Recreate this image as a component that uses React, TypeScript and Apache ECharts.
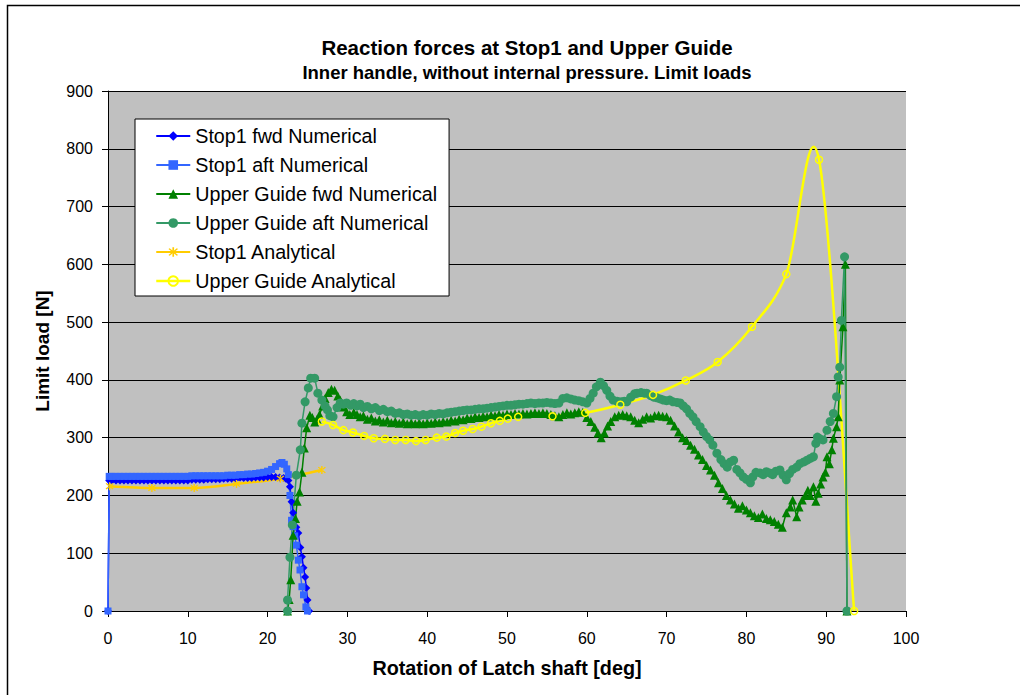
import React, { useEffect, useRef } from "react";
import * as echarts from "echarts";

const titleText = "Reaction forces at Stop1 and Upper Guide";
const subtitleText = "Inner handle, without internal pressure. Limit loads";
const xAxisName = "Rotation of Latch shaft [deg]";
const yAxisName = "Limit load [N]";
const seriesNames = [
  "Stop1 fwd Numerical",
  "Stop1 aft Numerical",
  "Upper Guide fwd Numerical",
  "Upper Guide aft Numerical",
  "Stop1 Analytical",
  "Upper Guide Analytical",
];

const stop1FwdData = [
  [0, 0], [0.15, 226], [0.5, 226], [1, 226], [1.5, 226], [2, 226], [2.5, 226], [3, 226], [3.5, 226], [4, 226],
  [4.5, 226], [5, 226], [5.5, 226], [6, 226], [6.5, 226], [7, 226], [7.5, 226], [8, 226], [8.5, 226], [9, 226],
  [9.5, 226], [10, 226], [10.5, 227], [11, 227], [11.5, 227], [12, 227], [12.5, 228], [13, 228], [13.5, 228],
  [14, 228], [14.5, 229], [15, 229], [15.5, 229], [16, 229], [16.5, 230], [17, 230], [17.5, 230], [18, 230],
  [18.5, 231], [19, 231], [19.5, 231], [20, 232], [20.5, 232], [21, 232], [21.5, 231], [22, 230], [22.3, 229],
  [22.6, 226], [22.8, 215], [23.0, 189], [23.2, 170], [23.4, 155], [23.6, 145], [23.85, 135], [24.1, 110],
  [24.3, 94], [24.5, 75], [24.7, 59], [24.85, 40], [25.0, 19], [25.2, 0],
];

const stop1AftData = [
  [0, 0], [0.15, 233], [0.5, 233], [1, 233], [1.5, 233], [2, 233], [2.5, 233], [3, 233], [3.5, 233], [4, 233],
  [4.5, 233], [5, 233], [5.5, 233], [6, 233], [6.5, 233], [7, 233], [7.5, 233], [8, 233], [8.5, 233], [9, 233],
  [9.5, 233], [10, 233], [10.5, 234], [11, 234], [11.5, 234], [12, 234], [12.5, 234], [13, 234], [13.5, 234],
  [14, 234], [14.5, 234], [15, 235], [15.5, 235], [16, 235], [16.5, 236], [17, 236], [17.5, 237], [18, 237],
  [18.5, 238], [19, 239], [19.5, 240], [20, 242], [20.5, 245], [21, 250], [21.5, 255], [21.8, 257], [22.1, 254],
  [22.4, 246], [22.6, 236], [22.8, 200], [23.0, 157], [23.2, 146], [23.4, 130], [23.6, 114], [23.85, 88],
  [24.06, 71], [24.3, 42], [24.5, 28], [24.8, 7], [25.0, 0],
];

const ugFwdData = [
  [22.5, 0], [22.7, 20], [22.9, 54], [23.2, 131], [23.5, 160], [23.7, 190], [24.0, 206], [24.3, 240], [24.6, 282],
  [24.9, 317], [25.3, 339], [25.6, 335], [25.9, 327], [26.2, 332], [26.5, 340], [26.9, 355], [27.2, 368],
  [27.6, 378], [28.0, 384], [28.4, 382], [28.8, 372], [29.1, 365], [29.5, 353], [29.9, 345], [30.3, 340],
  [30.8, 344], [31.2, 340], [31.6, 336], [32, 338], [32.5, 332], [33, 334], [33.5, 329], [34, 331], [34.5, 327],
  [35, 330], [35.5, 326], [36, 328], [36.5, 325], [37, 327], [37.5, 324], [38, 326], [38.5, 324], [39, 326],
  [39.5, 324], [40, 326], [40.5, 325], [41, 327], [41.5, 326], [42, 328], [42.5, 327], [43, 330], [43.5, 329],
  [44, 332], [44.5, 331], [45, 334], [45.5, 333], [46, 336], [46.5, 335], [47, 337], [47.5, 336], [48, 339],
  [48.5, 338], [49, 340], [49.5, 339], [50, 341], [50.5, 340], [51, 342], [51.5, 341], [52, 342], [52.5, 341],
  [53, 342], [53.5, 343], [54, 342], [54.5, 343], [55, 342], [55.5, 340], [56, 338], [56.5, 336], [57, 340],
  [57.5, 343], [58, 341], [58.5, 343], [59, 345], [59.5, 344], [60, 335], [60.5, 328], [61, 318], [61.4, 308],
  [61.8, 300], [62.2, 308], [62.6, 320], [63, 328], [63.5, 336], [64, 339], [64.5, 340], [65, 338], [65.5, 336],
  [66, 330], [66.5, 326], [67, 332], [67.5, 336], [68, 334], [68.5, 338], [69, 339], [69.5, 337], [70, 336],
  [70.5, 330], [71, 320], [71.5, 310], [72, 300], [72.5, 295], [73, 287], [73.5, 280], [74, 270], [74.5, 262],
  [75, 252], [75.5, 244], [76, 235], [76.5, 222], [77, 212], [77.5, 200], [78, 192], [78.5, 185], [79, 178],
  [79.5, 182], [80, 175], [80.5, 170], [81, 165], [81.5, 162], [82, 168], [82.5, 160], [83, 158], [83.5, 155],
  [84, 150], [84.5, 145], [85, 170], [85.5, 180], [85.8, 192], [86.3, 163], [86.6, 180], [87.0, 192],
  [87.4, 200], [87.7, 209], [88.0, 200], [88.4, 215], [88.7, 190], [89.0, 204], [89.3, 220], [89.6, 232],
  [89.9, 240], [90.1, 267], [90.4, 255], [90.7, 279], [90.9, 299], [91.3, 319], [91.5, 336], [91.7, 400],
  [92.1, 492], [92.4, 600], [92.6, 0],
];

const ugAftData = [
  [22.5, 0], [22.5, 19], [22.8, 93], [23.1, 149], [23.6, 235], [24.1, 279], [24.3, 325], [24.7, 362], [25.1, 386],
  [25.4, 403], [25.9, 403], [26.3, 377], [26.8, 365], [27.2, 355], [27.5, 348], [27.8, 338], [28.2, 336],
  [28.7, 352], [29.1, 360], [29.5, 358], [29.9, 360], [30.4, 356], [30.8, 359], [31.2, 355], [31.6, 358],
  [32, 352], [32.5, 354], [33, 350], [33.5, 352], [34, 347], [34.5, 349], [35, 345], [35.5, 346], [36, 342],
  [36.5, 343], [37, 340], [37.5, 341], [38, 339], [38.5, 340], [39, 338], [39.5, 340], [40, 339], [40.5, 341],
  [41, 340], [41.5, 342], [42, 341], [42.5, 343], [43, 344], [43.5, 345], [44, 346], [44.5, 347], [45, 348],
  [45.5, 348], [46, 349], [46.5, 350], [47, 350], [47.5, 351], [48, 352], [48.5, 353], [49, 354], [49.5, 355],
  [50, 356], [50.5, 356], [51, 357], [51.5, 358], [52, 358], [52.5, 359], [53, 360], [53.5, 359], [54, 360],
  [54.5, 360], [55, 361], [55.5, 360], [56, 359], [56.5, 360], [57, 368], [57.5, 369], [58, 367], [58.5, 365],
  [59, 364], [59.5, 362], [60, 360], [60.4, 368], [60.8, 377], [61.2, 388], [61.7, 396], [62.1, 390],
  [62.5, 382], [62.9, 372], [63.3, 365], [63.8, 363], [64.3, 362], [64.7, 363], [65, 362], [65.5, 370],
  [66, 376], [66.3, 377], [66.8, 378], [67.2, 377], [67.5, 377], [68, 373], [68.4, 370], [68.8, 369],
  [69.2, 367], [69.6, 365], [70, 364], [70.4, 365], [70.8, 362], [71.3, 361], [71.7, 360], [72.1, 355],
  [72.5, 350], [72.9, 342], [73.3, 336], [73.7, 328], [74.2, 319], [74.6, 310], [75, 302], [75.4, 296],
  [75.8, 287], [76.3, 273], [76.8, 262], [77.2, 255], [77.6, 249], [78, 258], [78.4, 261], [78.8, 245],
  [79.2, 239], [79.6, 232], [80, 228], [80.5, 222], [80.8, 232], [81.2, 240], [81.7, 239], [82.1, 236],
  [82.5, 241], [82.9, 239], [83.3, 236], [83.7, 242], [84.2, 244], [84.6, 235], [85.0, 227], [85.4, 238],
  [85.8, 245], [86.3, 249], [86.7, 255], [87.2, 258], [87.6, 261], [88.0, 264], [88.4, 267], [88.7, 290],
  [88.9, 301], [89.2, 298], [89.6, 296], [90.1, 313], [90.5, 328], [90.9, 342], [91.3, 371], [91.5, 405],
  [91.7, 422], [91.9, 503], [92.3, 613], [92.6, 0],
];

const stop1AnalyticalData = [
  [0.2, 216], [5.5, 213], [10.8, 213], [16.1, 220], [21.6, 229], [26.8, 244],
];

const ugAnalyticalData = [
  [26.8, 328], [28.2, 322], [29.5, 313], [30.7, 309], [32.1, 303], [33.3, 299], [34.7, 298], [36, 296],
  [37.3, 296], [38.6, 294], [39.8, 296], [41.2, 300], [42.4, 302], [43.5, 308], [44.5, 312], [45.7, 315],
  [46.8, 319], [48.0, 325], [49.1, 329], [50.1, 333], [51.4, 336], [55.7, 337], [59.8, 343], [64.2, 357],
  [68.3, 374], [72.4, 399], [76.4, 431], [80.7, 492], [85.0, 583], [89.1, 781], [93.5, 0],
];

const FONT = "'Liberation Sans', Arial, sans-serif";
const ASTERISK =
  "path://M-0.7,-5L0.7,-5L0.7,5L-0.7,5Z" +
  "M-4,-3L-3,-4L4,3L3,4Z" +
  "M-4,3L-3,4L4,-3L3,-4Z";

// Excel-like (Catmull-Rom) smoothing through pixel points obtained from the axes
function smoothPath(pts: number[][]): string {
  if (!pts.length) return "";
  let d = `M${pts[0][0]},${pts[0][1]}`;
  for (let i = 0; i < pts.length - 1; i++) {
    const p0 = pts[i - 1] || pts[i];
    const p1 = pts[i];
    const p2 = pts[i + 1];
    const p3 = pts[i + 2] || pts[i + 1];
    const c1x = p1[0] + (p2[0] - p0[0]) / 6;
    const c1y = p1[1] + (p2[1] - p0[1]) / 6;
    const c2x = p2[0] - (p3[0] - p1[0]) / 6;
    const c2y = p2[1] - (p3[1] - p1[1]) / 6;
    d += `C${c1x},${c1y},${c2x},${c2y},${p2[0]},${p2[1]}`;
  }
  return d;
}

export default function App() {
  const ref = useRef<HTMLDivElement>(null);

  useEffect(() => {
    if (!ref.current) return;
    const chart = echarts.init(ref.current, undefined, { renderer: "svg" });
    const lineSeries = (
      name: string,
      data: number[][],
      color: string,
      symbol: string,
      symbolSize: number,
      width: number,
      extra: any = {}
    ) => ({
      name,
      type: "line",
      data,
      symbol,
      symbolSize,
      showAllSymbol: true,
      lineStyle: { color, width },
      itemStyle: { color },
      emphasis: { disabled: true },
      ...extra,
    });

    const textBold = { fontFamily: FONT, fontWeight: "bold", color: "#000" };

    chart.setOption({
      animation: false,
      backgroundColor: "#ffffff",
      title: {
        text: titleText,
        subtext: subtitleText,
        left: 527,
        top: 37,
        textAlign: "center",
        padding: 0,
        itemGap: 5,
        textStyle: { ...textBold, fontSize: 20.5 },
        subtextStyle: { ...textBold, fontSize: 18.5 },
      },
      legend: {
        orient: "vertical",
        left: 135,
        top: 119,
        padding: [7, 12, 5, 20],
        itemGap: 9,
        itemWidth: 34,
        itemHeight: 12,
        backgroundColor: "#ffffff",
        borderColor: "#000000",
        borderWidth: 1,
        borderRadius: 0,
        selectedMode: false,
        textStyle: { fontFamily: FONT, fontSize: 19.7, color: "#000" },
        data: [
          seriesNames[0],
          seriesNames[1],
          seriesNames[2],
          seriesNames[3],
          seriesNames[4],
          { name: seriesNames[5], lineStyle: { color: "#ffff00", width: 2.5, opacity: 1 } },
        ],
      },
      grid: {
        left: 108,
        top: 91,
        width: 798,
        height: 520,
        show: true,
        backgroundColor: "#c0c0c0",
        borderWidth: 0,
      },
      xAxis: {
        type: "value",
        min: 0,
        max: 100,
        interval: 10,
        name: xAxisName,
        nameLocation: "middle",
        nameGap: 47,
        nameTextStyle: { ...textBold, fontSize: 19.8 },
        axisLine: { show: true, onZero: false, lineStyle: { color: "#000", width: 1 } },
        axisTick: { show: true, inside: false, length: 6, lineStyle: { color: "#000" } },
        axisLabel: { margin: 19, fontFamily: FONT, fontSize: 16, color: "#000" },
        splitLine: { show: false },
      },
      yAxis: {
        type: "value",
        min: 0,
        max: 900,
        interval: 100,
        name: yAxisName,
        nameLocation: "middle",
        nameGap: 56,
        nameTextStyle: { ...textBold, fontSize: 19 },
        axisLine: { show: true, lineStyle: { color: "#000", width: 1 } },
        axisTick: { show: true, inside: false, length: 6, lineStyle: { color: "#000" } },
        axisLabel: { margin: 15, fontFamily: FONT, fontSize: 16, color: "#000" },
        splitLine: { show: true, lineStyle: { color: "#000", width: 1 } },
      },
      graphic: [
        {
          type: "rect",
          shape: { x: 7.5, y: 5.5, width: 1030, height: 720 },
          style: { fill: "none", stroke: "#000", lineWidth: 1.5 },
          silent: true,
          z: 100,
        },
      ],
      series: [
        lineSeries(seriesNames[0], stop1FwdData, "#0000ff", "diamond", 8, 1.5),
        lineSeries(seriesNames[1], stop1AftData, "#3366ff", "rect", 7, 1.5),
        lineSeries(seriesNames[2], ugFwdData, "#008000", "triangle", 9, 1.5),
        lineSeries(seriesNames[3], ugAftData, "#339966", "circle", 9, 1.5),
        lineSeries(seriesNames[4], stop1AnalyticalData, "#ffcc00", ASTERISK, 8, 2.5, { smooth: 0.3 }),
        {
          name: "ugAnalyticalCurve",
          type: "custom",
          data: ugAnalyticalData,
          silent: true,
          clip: false,
          renderItem: (params: any, api: any) => {
            if (params.dataIndex !== 0) return null;
            const pts = ugAnalyticalData.map((d) => api.coord(d));
            return {
              type: "path",
              shape: { pathData: smoothPath(pts) },
              style: { fill: "none", stroke: "#ffff00", lineWidth: 2.5 },
            };
          },
        },
        {
          name: seriesNames[5],
          type: "line",
          data: ugAnalyticalData,
          symbol: "circle",
          symbolSize: 7,
          showAllSymbol: true,
          lineStyle: { color: "#ffff00", width: 2.5, opacity: 0 },
          itemStyle: { color: "rgba(0,0,0,0)", borderColor: "#ffff00", borderWidth: 1.5 },
          emphasis: { disabled: true },
        },
      ],
    });
    return () => chart.dispose();
  }, []);

  return (
    <div
      ref={ref}
      style={{ position: "fixed", left: 0, top: 0, width: 1020, height: 695 }}
    />
  );
}
